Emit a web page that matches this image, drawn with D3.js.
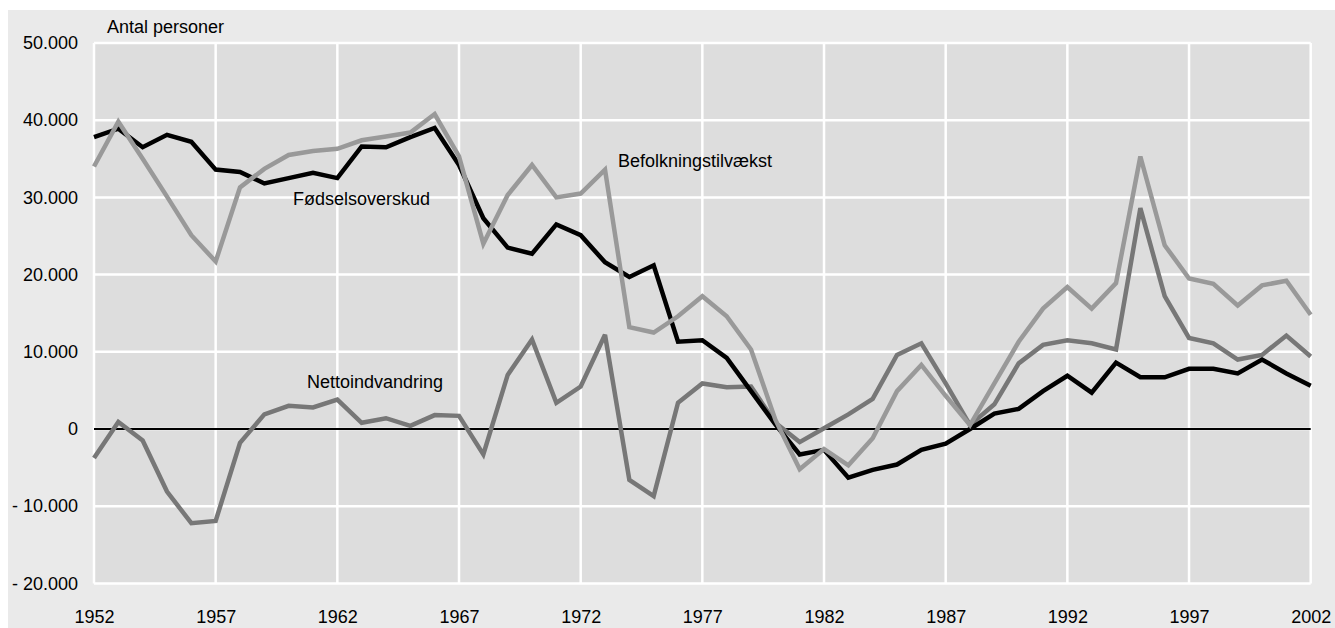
<!DOCTYPE html>
<html>
<head>
<meta charset="utf-8">
<script src="https://cdn.jsdelivr.net/npm/d3@7"></script>
<style>
  html, body { margin: 0; padding: 0; background: #ffffff; }
  svg { display: block; }
  text { font-family: "Liberation Sans", Arial, sans-serif; fill: #000; }
</style>
</head>
<body>
<svg id="chart" width="1335" height="628"></svg>
<script>
// ---- data ----
const years = d3.range(1952, 2003);
const foedselsoverskud = [
  37800, 38900, 36500, 38100, 37200, 33600, 33300, 31800, 32500, 33200,
  32500, 36600, 36500, 37800, 39000, 34200, 27300, 23500, 22700, 26500,
  25100, 21600, 19700, 21200, 11300, 11500, 9200, 4900, 600, -3300,
  -2700, -6300, -5300, -4600, -2700, -1900, 0, 2000, 2600, 4900,
  6900, 4700, 8600, 6700, 6700, 7800, 7800, 7200, 9000, 7200, 5600
];
const befolkningstilvaekst = [
  34000, 39800, 35000, 30100, 25100, 21700, 31300, 33700, 35500, 36000,
  36300, 37400, 37900, 38400, 40800, 35300, 24000, 30300, 34200, 30000,
  30500, 33600, 13200, 12500, 14600, 17200, 14600, 10300, 1200, -5200,
  -2600, -4700, -1200, 4900, 8300, 4300, 500, 5900, 11300, 15600,
  18400, 15600, 18900, 35300, 23800, 19500, 18800, 16000, 18600, 19200, 14800
];
const nettoindvandring = [
  -3750, 900, -1500, -8100, -12200, -11900, -1800, 1900, 3000, 2800,
  3800, 800, 1400, 400, 1800, 1700, -3300, 7000, 11600, 3400,
  5500, 12200, -6600, -8700, 3400, 5900, 5400, 5500, 800, -1700,
  100, 1900, 3900, 9600, 11100, 5900, 500, 3200, 8500, 10900,
  11500, 11100, 10300, 28600, 17200, 11800, 11100, 9000, 9600, 12100, 9400
];
const yTicks = [-20000, -10000, 0, 10000, 20000, 30000, 40000, 50000];
const yTickLabels = ["- 20.000", "- 10.000", "0", "10.000", "20.000", "30.000", "40.000", "50.000"];
const xTicks = [1952, 1957, 1962, 1967, 1972, 1977, 1982, 1987, 1992, 1997, 2002];
const seriesNames = ["Nettoindvandring", "Fødselsoverskud", "Befolkningstilvækst"];
const yAxisTitle = "Antal personer";

// ---- layout ----
const svg = d3.select("#chart");
const plot = { left: 94, right: 1310.7, top: 43, bottom: 583.4 };
const x = d3.scaleLinear().domain([1952, 2002]).range([plot.left, plot.right]);
const y = d3.scaleLinear().domain([-20000, 50000]).range([plot.bottom, plot.top]);

// outer panel
svg.append("rect").attr("x", 8).attr("y", 10).attr("width", 1327).attr("height", 618)
  .attr("fill", "#eaeaea");
// plot bg
svg.append("rect").attr("x", plot.left).attr("y", plot.top)
  .attr("width", plot.right - plot.left).attr("height", plot.bottom - plot.top)
  .attr("fill", "#dddddd");

// grid
const grid = svg.append("g");
grid.selectAll("line.h").data(yTicks).join("line")
  .attr("x1", plot.left).attr("x2", plot.right)
  .attr("y1", d => y(d)).attr("y2", d => y(d))
  .attr("stroke", "#ffffff").attr("stroke-width", 2.5);
grid.selectAll("line.v").data(xTicks).join("line")
  .attr("y1", plot.top).attr("y2", plot.bottom)
  .attr("x1", d => x(d)).attr("x2", d => x(d))
  .attr("stroke", "#ffffff").attr("stroke-width", 2.5);

// zero line
svg.append("line").attr("x1", plot.left).attr("x2", plot.right)
  .attr("y1", y(0)).attr("y2", y(0)).attr("stroke", "#000").attr("stroke-width", 2);

// axes
const yAxis = d3.axisLeft(y).tickValues(yTicks).tickSize(0).tickPadding(16)
  .tickFormat((d, i) => yTickLabels[i]);
const gy = svg.append("g").attr("transform", `translate(${plot.left},0)`).call(yAxis);
gy.select(".domain").remove();
gy.selectAll("text").style("font-size", "18px").style("font-family", "'Liberation Sans', Arial, sans-serif");

const xAxis = d3.axisBottom(x).tickValues(xTicks).tickSize(0).tickPadding(27)
  .tickFormat(d3.format("d"));
const gx = svg.append("g").attr("transform", `translate(0,${plot.bottom})`).call(xAxis);
gx.select(".domain").remove();
gx.selectAll("text").style("font-size", "18px").style("font-family", "'Liberation Sans', Arial, sans-serif");

// lines
const line = d3.line().x((d, i) => x(years[i])).y(d => y(d));
const series = [
  { name: seriesNames[0], values: nettoindvandring, color: "#777777" },
  { name: seriesNames[1], values: foedselsoverskud, color: "#000000" },
  { name: seriesNames[2], values: befolkningstilvaekst, color: "#999999" }
];
svg.append("g").selectAll("path").data(series).join("path")
  .attr("d", d => line(d.values))
  .attr("fill", "none").attr("stroke", d => d.color)
  .attr("stroke-width", 4.5).attr("stroke-linejoin", "miter").attr("stroke-miterlimit", 3);

// labels
const labels = [
  { text: yAxisTitle, x: 107, y: 33 },
  { text: seriesNames[1], x: 293, y: 205 },
  { text: seriesNames[2], x: 618, y: 167 },
  { text: seriesNames[0], x: 307, y: 388 }
];
svg.append("g").selectAll("text").data(labels).join("text")
  .attr("x", d => d.x).attr("y", d => d.y)
  .style("font-size", "18px")
  .text(d => d.text);
</script>
</body>
</html>
